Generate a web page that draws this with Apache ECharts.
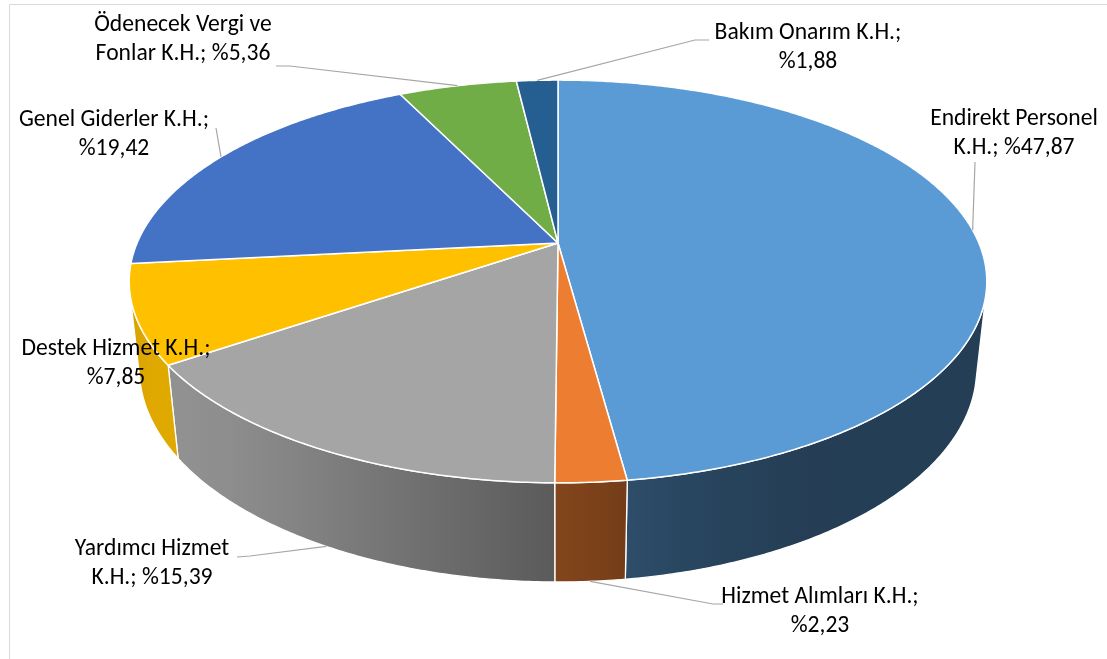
<!DOCTYPE html>
<html>
<head>
<meta charset="utf-8">
<script src="https://cdn.jsdelivr.net/npm/echarts@6/dist/echarts.min.js"></script>
<style>
  html, body { margin: 0; padding: 0; background: #ffffff; }
  #chart { width: 1107px; height: 659px; }
</style>
</head>
<body>
<div id="chart"></div>
<script>
// Cost-centre shares (percent)
const categories = [
  'Endirekt Personel K.H.',
  'Hizmet Alımları K.H.',
  'Yardımcı Hizmet K.H.',
  'Destek Hizmet K.H.',
  'Genel Giderler K.H.',
  'Ödenecek Vergi ve Fonlar K.H.',
  'Bakım Onarım K.H.'
];
const shares = [47.87, 2.23, 15.39, 7.85, 19.42, 5.36, 1.88];
const colors = ['#5b9bd5', '#ed7d31', '#a5a5a5', '#ffc000', '#4472c4', '#70ad47', '#255e91'];

// Label placement: block centre, words on the first line, where the leader meets the slice, leader knee points
const labelLayout = [
  { x: 1014, y: 134, wrapAfter: 2, anchor: 'top',    knee: [[975, 162]] },
  { x: 820,  y: 612, wrapAfter: 3, anchor: 'bottom', knee: [[723, 604], [713, 604]] },
  { x: 152,  y: 564, wrapAfter: 2, anchor: 'bottom', knee: [[237, 557], [250, 556]] },
  { x: 116,  y: 364, wrapAfter: 3, anchor: null,     knee: [] },
  { x: 114,  y: 135, wrapAfter: 3, anchor: 'top',    knee: [[216, 128]] },
  { x: 183,  y: 40,  wrapAfter: 3, anchor: 'top',    knee: [[276, 66], [290, 66]] },
  { x: 808,  y: 48,  wrapAfter: 3, anchor: 'top',    knee: [[709, 40], [695, 40]] }
];

// Perspective camera for the tilted 3D pie
const view = { cx: 558, cy: 243, focal: 1955, dist: 4.645, tilt: 27.45 * Math.PI / 180, thick: 0.236 };

function project(phi, z) {
  const X = Math.sin(phi), Y = Math.cos(phi);
  const s = Math.sin(view.tilt), c = Math.cos(view.tilt);
  const depth = view.dist + Y * c - z * s;
  return [view.cx + view.focal * X / depth, view.cy - view.focal * (Y * s + z * c) / depth];
}

function arc(a, b, z) {
  const pts = [];
  const n = Math.max(2, Math.ceil((b - a) / (Math.PI / 360)));
  for (let i = 0; i <= n; i++) pts.push(project(a + (b - a) * i / n, z));
  return pts;
}

function hexToRgb(h) {
  return [parseInt(h.slice(1, 3), 16), parseInt(h.slice(3, 5), 16), parseInt(h.slice(5, 7), 16)];
}
// Side-wall lighting: brightest where the wall faces lower-left
function shade(hex, phi) {
  const d = phi - 236 * Math.PI / 180;
  const k = Math.abs(d) < Math.PI / 2 ? Math.cos(d) ** 2 : 0;
  const f = 0.40 + 0.48 * k;
  const [r, g, b] = hexToRgb(hex);
  return 'rgb(' + Math.round(r * f) + ',' + Math.round(g * f) + ',' + Math.round(b * f) + ')';
}

const total = shares.reduce((s, v) => s + v, 0);
const bounds = [];
(function () {
  let acc = 0;
  shares.forEach(v => {
    const a = acc / total * 2 * Math.PI;
    acc += v;
    bounds.push([a, acc / total * 2 * Math.PI]);
  });
})();

// Outer wall is visible only where it faces the camera
const visLimit = Math.acos(-1 / (view.dist * Math.cos(view.tilt)));
const visRange = [visLimit, 2 * Math.PI - visLimit];

function labelText(i) {
  const txt = categories[i] + '; %' + shares[i].toFixed(2).replace('.', ',');
  const words = txt.split(' ');
  const n = labelLayout[i].wrapAfter;
  return words.slice(0, n).join(' ') + '\n' + words.slice(n).join(' ');
}

const seriesData = shares.map((v, i) => ({ name: categories[i], value: v }));

function renderWall(params, api) {
  const i = params.dataIndex;
  const a = Math.max(bounds[i][0], visRange[0]);
  const b = Math.min(bounds[i][1], visRange[1]);
  if (b <= a) return null;
  const top = arc(a, b, 0);
  const bottom = arc(a, b, -view.thick).reverse();
  const xa = top[0][0], xb = top[top.length - 1][0];
  const stops = [];
  const m = 12;
  for (let j = 0; j <= m; j++) {
    const phi = a + (b - a) * j / m;
    const x = project(phi, 0)[0];
    stops.push({ offset: Math.min(1, Math.max(0, (xa - x) / (xa - xb))), color: shade(colors[i], phi) });
  }
  return {
    type: 'polygon',
    shape: { points: top.concat(bottom) },
    style: {
      fill: { type: 'linear', x: xa, y: 0, x2: xb, y2: 0, global: true, colorStops: stops },
      stroke: '#ffffff',
      lineWidth: 1.3,
      lineJoin: 'round'
    }
  };
}

function renderTop(params, api) {
  const i = params.dataIndex;
  const pts = [[view.cx, view.cy]].concat(arc(bounds[i][0], bounds[i][1], 0));
  return {
    type: 'polygon',
    shape: { points: pts },
    style: { fill: colors[i], stroke: '#ffffff', lineWidth: 1.5, lineJoin: 'round' }
  };
}

function renderLabel(params, api) {
  const i = params.dataIndex;
  const lay = labelLayout[i];
  const children = [];
  if (lay.anchor) {
    const mid = (bounds[i][0] + bounds[i][1]) / 2;
    const end = project(mid, lay.anchor === 'top' ? 0 : -view.thick);
    children.push({
      type: 'polyline',
      shape: { points: lay.knee.concat([end]) },
      style: { stroke: '#a6a6a6', lineWidth: 1.2, fill: null }
    });
  }
  children.push({
    type: 'text',
    style: {
      text: labelText(i),
      x: lay.x,
      y: lay.y,
      align: 'center',
      verticalAlign: 'middle',
      fill: '#000000',
      font: '23.6px Carlito, Lato, sans-serif',
      lineHeight: 29
    }
  });
  return { type: 'group', children: children };
}

const chart = echarts.init(document.getElementById('chart'), null, { renderer: 'canvas' });
chart.setOption({
  animation: false,
  backgroundColor: '#ffffff',
  graphic: [{
    type: 'rect',
    silent: true,
    z: -10,
    shape: { x: 9.5, y: 4.5, width: 1200, height: 800 },
    style: { fill: 'none', stroke: '#d9d9d9', lineWidth: 1 }
  }],
  series: [
    { type: 'custom', name: 'walls', coordinateSystem: 'none', z: 1, silent: true, data: seriesData, renderItem: renderWall },
    { type: 'custom', name: 'tops', coordinateSystem: 'none', z: 2, silent: true, data: seriesData, renderItem: renderTop },
    { type: 'custom', name: 'labels', coordinateSystem: 'none', z: 3, silent: true, data: seriesData, renderItem: renderLabel }
  ]
});
</script>
</body>
</html>
